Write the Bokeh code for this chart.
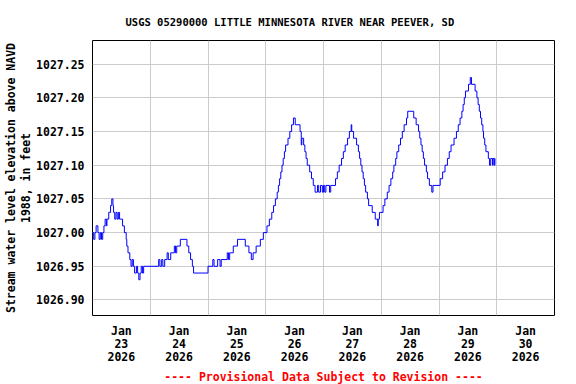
from bokeh.plotting import figure
from bokeh.models import Range1d, FixedTicker, PrintfTickFormatter, Title
from bokeh.embed import file_html
from bokeh.resources import INLINE

TITLE = "USGS 05290000 LITTLE MINNESOTA RIVER NEAR PEEVER, SD"
Y_LABEL = "Stream water level elevation above NAVD\n1988, in feet"
FOOTNOTE = "---- Provisional Data Subject to Revision ----"

# x in hours since 2026-01-23 00:00
day_labels = ["Jan\n23\n2026", "Jan\n24\n2026", "Jan\n25\n2026", "Jan\n26\n2026",
              "Jan\n27\n2026", "Jan\n28\n2026", "Jan\n29\n2026", "Jan\n30\n2026"]
label_hours = [12, 36, 60, 84, 108, 132, 156, 180]
midnight_hours = [24, 48, 72, 96, 120, 144, 168]
y_ticks = [1026.90, 1026.95, 1027.00, 1027.05, 1027.10, 1027.15, 1027.20, 1027.25]

hours = [
    0, 0.5, 1, 1.5, 2.25, 2.75, 3.25, 3.75, 4.25, 4.75, 5.25, 5.75,
    6, 6.75, 7.5, 8, 8.5, 8.75, 9.25, 9.75, 10.25, 10.75, 11.25, 12.5,
    13.25, 14, 14.25, 14.75, 15.5, 16, 16.5, 17, 17.5, 18.25, 18.75, 19.25,
    19.75, 20.25, 20.75, 21.25,
    27.5, 28, 28.75, 29.25, 30, 31, 31.5, 32.5, 34, 34.5, 35, 36.5,
    39.25, 40, 40.75, 41.5, 42,
    48, 50, 50.5, 52, 53, 53.5, 56, 56.5, 57, 58.5, 60.25, 63.5,
    65, 66, 66.75, 68, 69.75, 71,
    72.5, 73.5, 74.5, 75.25, 76, 76.75, 77.25, 77.75, 78.25, 78.75, 79.25, 79.75,
    80.25, 81.25, 82, 82.75, 83.5, 84.25, 86.25, 86.75, 87, 87.75, 88.25, 88.75,
    89.25, 90.25, 91, 91.75, 92.5, 93.5, 94, 94.75, 95.5,
    96, 96.5, 97, 98.5, 99, 101, 101.75, 102.5, 103.5, 104.25, 105, 106,
    106.75, 107.5, 107.75, 108.5, 109.75, 110.5, 111, 111.5, 112, 112.5, 113, 113.5,
    114.25, 114.75, 116.25, 117.5, 118.5, 118.75, 119.25,
    120.75, 121.5, 122.5, 123.25, 124, 124.75, 125.25, 126, 126.5, 127.25, 128, 128.75,
    129.5, 130.5, 131, 133.5, 134.5, 135.5, 136, 136.5, 137, 137.5, 138, 138.75,
    139.25, 140, 141, 141.5,
    144.5, 145.5, 146.5, 147.5, 148.25, 149, 150.25, 151.25, 152, 152.75, 153.5, 154,
    154.5, 155, 156.25, 157, 157.5, 159, 159.75, 160.25, 160.75, 161.25, 161.75, 162.25,
    162.5, 163, 163.5, 164.5, 165, 165.5, 166.25, 166.5, 167, 167.25,
]

stage = [
    1027.00, 1026.99, 1027.00, 1027.01, 1027.00, 1026.99, 1027.00, 1026.99, 1027.00, 1027.01, 1027.02, 1027.01,
    1027.02, 1027.03, 1027.04, 1027.05, 1027.04, 1027.03, 1027.02, 1027.03, 1027.02, 1027.03, 1027.02, 1027.01,
    1027.00, 1026.99, 1026.98, 1026.97, 1026.96, 1026.95, 1026.96, 1026.95, 1026.94, 1026.95, 1026.94, 1026.93,
    1026.94, 1026.95, 1026.94, 1026.95,
    1026.96, 1026.95, 1026.96, 1026.95, 1026.96, 1026.97, 1026.96, 1026.97, 1026.98, 1026.97, 1026.98, 1026.99,
    1026.98, 1026.97, 1026.96, 1026.95, 1026.94,
    1026.95, 1026.96, 1026.95, 1026.96, 1026.95, 1026.96, 1026.97, 1026.96, 1026.97, 1026.98, 1026.99, 1026.98,
    1026.97, 1026.96, 1026.97, 1026.98, 1026.99, 1027.00,
    1027.01, 1027.02, 1027.03, 1027.04, 1027.05, 1027.06, 1027.07, 1027.08, 1027.09, 1027.10, 1027.11, 1027.12,
    1027.13, 1027.14, 1027.15, 1027.16, 1027.17, 1027.16, 1027.15, 1027.13, 1027.14, 1027.13, 1027.12, 1027.11,
    1027.10, 1027.09, 1027.08, 1027.07, 1027.06, 1027.07, 1027.06, 1027.07, 1027.06,
    1027.07, 1027.06, 1027.07, 1027.06, 1027.07, 1027.08, 1027.09, 1027.10, 1027.11, 1027.12, 1027.13, 1027.14,
    1027.15, 1027.16, 1027.15, 1027.14, 1027.13, 1027.12, 1027.11, 1027.10, 1027.09, 1027.08, 1027.07, 1027.06,
    1027.05, 1027.04, 1027.03, 1027.02, 1027.01, 1027.02, 1027.03,
    1027.04, 1027.05, 1027.06, 1027.07, 1027.08, 1027.09, 1027.10, 1027.11, 1027.12, 1027.13, 1027.14, 1027.15,
    1027.16, 1027.17, 1027.18, 1027.17, 1027.16, 1027.15, 1027.14, 1027.13, 1027.12, 1027.11, 1027.10, 1027.09,
    1027.08, 1027.07, 1027.06, 1027.07,
    1027.08, 1027.09, 1027.10, 1027.11, 1027.12, 1027.13, 1027.14, 1027.15, 1027.16, 1027.17, 1027.18, 1027.19,
    1027.20, 1027.21, 1027.22, 1027.23, 1027.22, 1027.21, 1027.20, 1027.19, 1027.18, 1027.17, 1027.16, 1027.15,
    1027.14, 1027.13, 1027.12, 1027.11, 1027.10, 1027.11, 1027.10, 1027.11, 1027.10, 1027.11,
]

FONT = "DejaVu Sans Mono"

p = figure(width=576, height=384, output_backend="svg", toolbar_location=None, title=None,
           x_range=Range1d(0, 192), y_range=Range1d(1026.877, 1027.285),
           min_border_left=92, min_border_right=22, min_border_top=39, min_border_bottom=69)

p.step(hours, stage, mode="after", line_color="#0000ff", line_width=1)

p.outline_line_color = "black"
p.outline_line_width = 1
p.outline_line_alpha = 1

# x axis
p.xaxis.ticker = FixedTicker(ticks=label_hours)
p.xaxis.major_label_overrides = {h: lab for h, lab in zip(label_hours, day_labels)}
p.xaxis.major_label_text_font = FONT
p.xaxis.major_label_text_font_style = "bold"
p.xaxis.major_label_text_font_size = "11.5px"
p.xaxis.major_label_text_line_height = 0.96
p.xaxis.major_label_standoff = 8
p.xgrid.ticker = FixedTicker(ticks=midnight_hours)

# y axis
p.yaxis.ticker = FixedTicker(ticks=y_ticks)
p.yaxis.formatter = PrintfTickFormatter(format="%.2f")
p.yaxis.major_label_text_font = FONT
p.yaxis.major_label_text_font_style = "bold"
p.yaxis.major_label_text_font_size = "11.5px"
p.yaxis.major_label_standoff = 8
p.yaxis.axis_label = Y_LABEL
p.yaxis.axis_label_text_font = FONT
p.yaxis.axis_label_text_font_style = "bold"
p.yaxis.axis_label_text_font_size = "11.5px"
p.yaxis.axis_label_text_line_height = 1.05
p.yaxis.axis_label_standoff = 0
p.yaxis.axis_label_text_color = "black"

for ax in (p.xaxis, p.yaxis):
    ax.axis_line_color = None
    ax.major_tick_line_color = None
    ax.minor_tick_line_color = None
    ax.major_tick_out = 0
    ax.major_tick_in = 0
    ax.minor_tick_out = 0
    ax.minor_tick_in = 0
    ax.major_label_text_color = "black"

for g in (p.xgrid, p.ygrid):
    g.grid_line_color = "#cccccc"
    g.grid_line_width = 1

p.add_layout(Title(text=TITLE, align="left", offset=33, standoff=26,
                   text_font=FONT, text_font_style="bold", text_font_size="10.5px",
                   text_color="black"), "above")
p.add_layout(Title(text=FOOTNOTE, align="center", standoff=0,
                   text_font=FONT, text_font_style="bold", text_font_size="11.5px",
                   text_color="red"), "below")

open("out.html", "w").write(file_html(p, INLINE))
